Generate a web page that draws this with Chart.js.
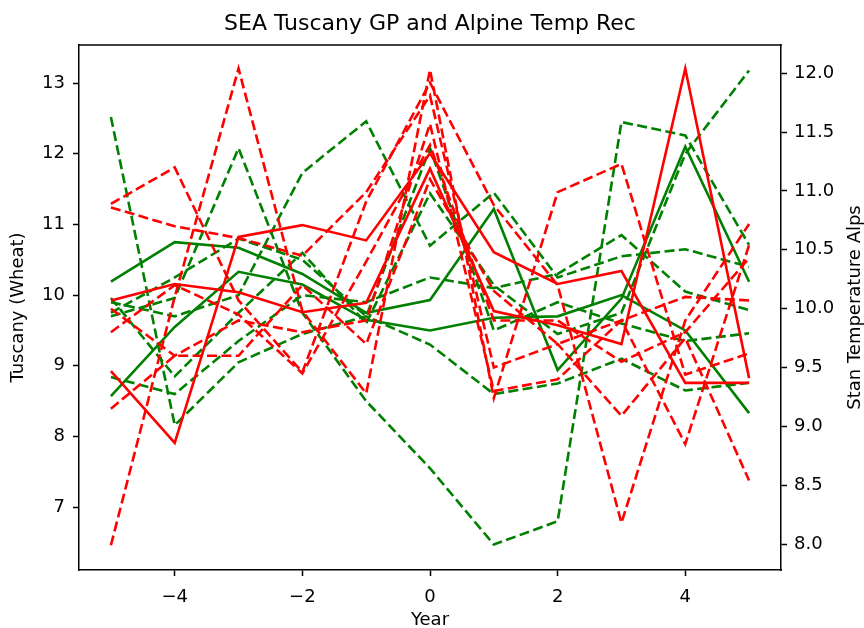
<!DOCTYPE html>
<html>
<head>
    <title>SEA Tuscany GP and Alpine Temp Rec</title>
    <script src="https://cdn.jsdelivr.net/npm/chart.js"></script>
    <style>
        body { margin: 0; background: #fff; }
    </style>
</head>
<body>
    <canvas id="myChart" width="864" height="628"></canvas>

    <script>
        // years relative to the event
        const years = [-5, -4, -3, -2, -1, 0, 1, 2, 3, 4, 5];

        // Tuscany (Wheat), left axis
        const tuscanySolid1 = [10.19, 10.75, 10.67, 10.30, 9.75, 9.93, 11.22, 8.94, 9.95, 12.10, 10.19];
        const tuscanySolid2 = [8.57, 9.55, 10.33, 10.15, 9.65, 9.50, 9.68, 9.70, 10.00, 9.50, 8.33];
        const tuscanyDash1 = [12.52, 8.16, 9.05, 9.45, 9.70, 9.30, 8.60, 8.75, 9.10, 8.65, 8.76];
        const tuscanyDash2 = [9.90, 9.70, 10.00, 11.73, 12.46, 10.70, 11.45, 10.25, 10.55, 10.65, 10.40];
        const tuscanyDash3 = [9.70, 9.96, 12.08, 9.75, 8.50, 7.55, 6.47, 6.80, 12.45, 12.26, 10.71];
        const tuscanyDash4 = [9.96, 8.85, 9.75, 10.60, 9.60, 11.44, 10.14, 9.45, 9.75, 12.00, 13.18];
        const tuscanyDash5 = [8.84, 8.60, 9.35, 10.00, 9.90, 10.25, 10.10, 10.30, 10.85, 10.05, 9.79];
        const tuscanyDash6 = [9.75, 10.25, 10.80, 10.50, 9.70, 12.08, 9.50, 9.90, 9.60, 9.35, 9.46];

        // Stan Temperature Alps, right axis
        const alpsSolid1 = [9.47, 8.86, 10.61, 10.71, 10.58, 11.32, 10.48, 10.21, 10.32, 9.37, 9.37];
        const alpsSolid2 = [10.07, 10.21, 10.14, 9.97, 10.05, 11.19, 9.98, 9.86, 9.70, 12.04, 9.41];
        const alpsDash1 = [7.99, 10.10, 12.04, 9.98, 9.28, 12.03, 9.24, 10.99, 11.23, 9.44, 9.62];
        const alpsDash2 = [10.89, 11.20, 10.07, 9.46, 10.91, 11.92, 10.88, 10.20, 8.18, 9.90, 10.72];
        const alpsDash3 = [10.86, 10.70, 10.60, 10.45, 10.99, 11.81, 9.50, 9.70, 9.09, 9.75, 8.54];
        const alpsDash4 = [10.00, 9.60, 9.90, 9.80, 9.90, 11.57, 9.30, 9.40, 9.90, 8.85, 10.54];
        const alpsDash5 = [9.80, 10.20, 9.95, 9.45, 10.40, 11.39, 9.90, 9.90, 9.55, 9.80, 10.43];
        const alpsDash6 = [9.15, 9.60, 9.60, 10.20, 9.70, 11.10, 10.15, 9.70, 9.90, 10.10, 10.07];

        const xTicks = [-4, -2, 0, 2, 4];
        const leftTicks = [7, 8, 9, 10, 11, 12, 13];
        const rightTicks = [8.0, 8.5, 9.0, 9.5, 10.0, 10.5, 11.0, 11.5, 12.0];

        const GREEN = '#008000';
        const RED = '#ff0000';
        const DASH = [10, 4.4];
        const FONT = 'DejaVu Sans';

        function series(vals, color, dashed, axis) {
            return {
                data: years.map((x, i) => ({x: x, y: vals[i]})),
                borderColor: color,
                borderWidth: 2.6,
                borderDash: dashed ? DASH : [],
                pointRadius: 0,
                fill: false,
                tension: 0,
                yAxisID: axis
            };
        }

        // first dataset is drawn on top in Chart.js, so red goes first
        const datasets = [
            series(alpsSolid1, RED, false, 'y2'),
            series(alpsSolid2, RED, false, 'y2'),
            series(alpsDash1, RED, true, 'y2'),
            series(alpsDash2, RED, true, 'y2'),
            series(alpsDash3, RED, true, 'y2'),
            series(alpsDash4, RED, true, 'y2'),
            series(alpsDash5, RED, true, 'y2'),
            series(alpsDash6, RED, true, 'y2'),
            series(tuscanySolid1, GREEN, false, 'y'),
            series(tuscanySolid2, GREEN, false, 'y'),
            series(tuscanyDash1, GREEN, true, 'y'),
            series(tuscanyDash2, GREEN, true, 'y'),
            series(tuscanyDash3, GREEN, true, 'y'),
            series(tuscanyDash4, GREEN, true, 'y'),
            series(tuscanyDash5, GREEN, true, 'y'),
            series(tuscanyDash6, GREEN, true, 'y')
        ];

        function fixedTicks(list) {
            return function(scale) { scale.ticks = list.map(v => ({value: v})); };
        }

        function axisLook() {
            return {
                grid: { display: true, drawOnChartArea: false, drawTicks: true, tickLength: 6, tickWidth: 1.5, tickColor: '#000' },
                border: { display: true, color: '#000', width: 1.5 }
            };
        }

        // title, axis labels and the top spine
        const labels = {
            id: 'labels',
            afterDatasetsDraw(chart) {
                const ctx = chart.ctx;
                const a = chart.chartArea;
                ctx.save();
                ctx.strokeStyle = '#000';
                ctx.lineWidth = 1.5;
                ctx.beginPath();
                ctx.moveTo(a.left - 0.75, a.top);
                ctx.lineTo(a.right + 0.75, a.top);
                ctx.stroke();

                ctx.fillStyle = '#000';
                ctx.textAlign = 'center';
                ctx.textBaseline = 'middle';
                ctx.font = '22px "' + FONT + '"';
                ctx.fillText('SEA Tuscany GP and Alpine Temp Rec', (a.left + a.right) / 2, 24);

                ctx.font = '18px "' + FONT + '"';
                ctx.fillText('Year', (a.left + a.right) / 2, 620);

                const midY = (a.top + a.bottom) / 2;
                ctx.translate(18, midY);
                ctx.rotate(-Math.PI / 2);
                ctx.fillText('Tuscany (Wheat)', 0, 0);
                ctx.rotate(Math.PI / 2);
                ctx.translate(-18, -midY);

                ctx.translate(855, midY);
                ctx.rotate(-Math.PI / 2);
                ctx.fillText('Stan Temperature Alps', 0, 0);
                ctx.restore();
            }
        };

        const chart = new Chart(document.getElementById('myChart'), {
            type: 'line',
            data: { datasets: datasets },
            options: {
                responsive: false,
                animation: false,
                layout: { padding: { top: 45, left: 0, right: 0, bottom: 0 } },
                plugins: {
                    legend: { display: false },
                    tooltip: { enabled: false }
                },
                scales: {
                    x: Object.assign(axisLook(), {
                        type: 'linear',
                        min: -5.5,
                        max: 5.5,
                        afterBuildTicks: fixedTicks(xTicks),
                        afterFit: function(scale) { scale.height = 58; },
                        ticks: {
                            color: '#000',
                            padding: 11,
                            maxRotation: 0,
                            font: { family: FONT, size: 18 },
                            callback: v => (v < 0 ? '\u2212' + Math.abs(v) : String(v))
                        }
                    }),
                    y: Object.assign(axisLook(), {
                        type: 'linear',
                        position: 'left',
                        min: 6.11,
                        max: 13.54,
                        afterBuildTicks: fixedTicks(leftTicks),
                        afterFit: function(scale) { scale.width = 79; },
                        ticks: {
                            color: '#000',
                            padding: 8,
                            font: { family: FONT, size: 18 },
                            callback: v => String(v)
                        }
                    }),
                    y2: Object.assign(axisLook(), {
                        type: 'linear',
                        position: 'right',
                        min: 7.78,
                        max: 12.24,
                        afterBuildTicks: fixedTicks(rightTicks),
                        afterFit: function(scale) { scale.width = 83; },
                        ticks: {
                            color: '#000',
                            padding: 7,
                            font: { family: FONT, size: 18 },
                            callback: v => v.toFixed(1)
                        }
                    })
                }
            },
            plugins: [labels]
        });
    </script>
</body>
</html>
